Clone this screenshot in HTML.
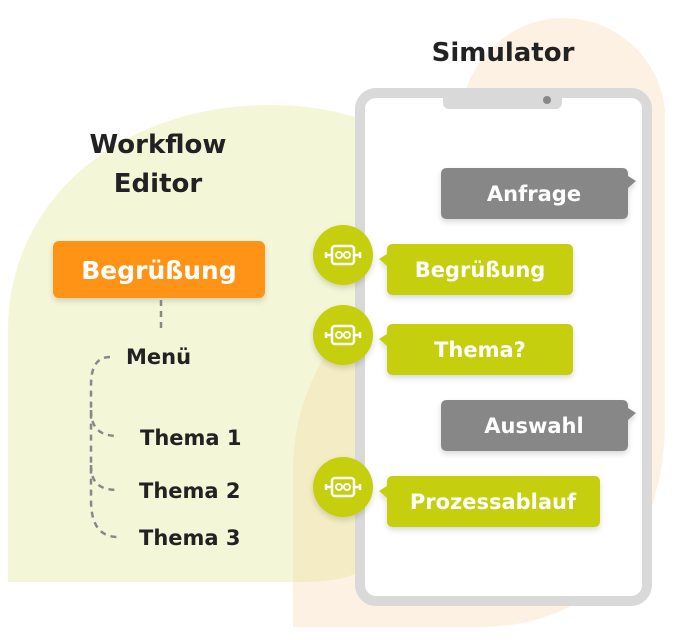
<!DOCTYPE html>
<html><head><meta charset="utf-8"><style>
html,body{margin:0;padding:0;background:#fff;}
body{width:674px;height:640px;overflow:hidden;position:relative;font-family:"DejaVu Sans","Liberation Sans",sans-serif;}
svg{position:absolute;left:0;top:0;}
</style></head><body>
<svg width="674" height="640" viewBox="0 0 674 640" xmlns="http://www.w3.org/2000/svg" font-family="DejaVu Sans, Liberation Sans, sans-serif">
<defs>
<filter id="sh" x="-20%" y="-30%" width="140%" height="170%"><feDropShadow dx="0" dy="3" stdDeviation="3" flood-color="#000" flood-opacity="0.15"/></filter>
<g id="bot">
<circle r="30" fill="#c5cf0a"/>
<rect x="-11" y="-9" width="22" height="18" rx="3" fill="none" stroke="#fff" stroke-width="2.5"/>
<circle cx="-4" cy="0" r="3" fill="none" stroke="#fff" stroke-width="2"/>
<circle cx="4" cy="0" r="3" fill="none" stroke="#fff" stroke-width="2"/>
<path d="M-11 0H-17M-17 -3V3M11 0H17M17 -3V3" stroke="#fff" stroke-width="2.5"/>
</g>
</defs>
<path d="M293 627 L293 470 C293 380 350 310 462 280 L462 110 A102 102 0 0 1 665 110 L665 420 C665 540 600 627 480 627 Z" fill="#fdf1e3"/>
<path d="M8 582 L8 330 C8 200 120 105 270 105 C320 105 350 115 380 125 L380 560 C360 575 340 582 300 582 Z" fill="#f4f6d8"/>
<path d="M293 582 L293 470 C293 380 350 310 380 300 L380 560 C360 575 340 582 300 582 Z" fill="#f3ecc4"/>
<rect x="360" y="93" width="287" height="508" rx="16" fill="#fff" stroke="#d9d9d9" stroke-width="10"/>
<path d="M443 96 H562 V102 Q562 109 555 109 H450 Q443 109 443 102 Z" fill="#d9d9d9"/>
<circle cx="547" cy="100" r="4" fill="#888"/>
<text x="503" y="61" font-size="26" font-weight="bold" fill="#222" text-anchor="middle">Simulator</text>
<text x="158" y="153" font-size="26" font-weight="bold" fill="#222" text-anchor="middle">Workflow</text>
<text x="158" y="192" font-size="26" font-weight="bold" fill="#222" text-anchor="middle">Editor</text>
<rect x="53" y="241" width="212" height="57" rx="6" fill="#ff9315" filter="url(#sh)"/>
<text x="159" y="279" font-size="25" font-weight="bold" fill="#fff" text-anchor="middle">Begrüßung</text>
<g fill="none" stroke="#888" stroke-width="2.5" stroke-dasharray="6 5">
<path d="M161 300 V330"/>
<path d="M110 357 C95 357 91 370 91 385 V500 C91 525 100 537 118 537"/>
<path d="M91 410 C91 430 102 436 118 436"/>
<path d="M91 465 C91 485 102 490 118 490"/>
</g>
<g font-size="21" font-weight="bold" fill="#222">
<text x="126" y="364">Menü</text>
<text x="140" y="445">Thema 1</text>
<text x="139" y="498">Thema 2</text>
<text x="139" y="545">Thema 3</text>
</g>
<g filter="url(#sh)">
<path d="M447 168 H622 Q628 168 628 174 V176 L636 181 L628 188 V213 Q628 219 622 219 H447 Q441 219 441 213 V174 Q441 168 447 168 Z" fill="#878787"/>
<path d="M447 400 H622 Q628 400 628 406 V408 L636 413 L628 420 V445 Q628 451 622 451 H447 Q441 451 441 445 V406 Q441 400 447 400 Z" fill="#878787"/>
<path d="M393 244 H567 Q573 244 573 250 V289 Q573 295 567 295 H393 Q387 295 387 289 V266 L379 259 L387 254 V250 Q387 244 393 244 Z" fill="#c5cf0a"/>
<path d="M393 324 H567 Q573 324 573 330 V369 Q573 375 567 375 H393 Q387 375 387 369 V346 L379 339 L387 334 V330 Q387 324 393 324 Z" fill="#c5cf0a"/>
<path d="M393 476 H594 Q600 476 600 482 V521 Q600 527 594 527 H393 Q387 527 387 521 V498 L379 491 L387 486 V482 Q387 476 393 476 Z" fill="#c5cf0a"/>
</g>
<g font-size="21" font-weight="bold" fill="#fff" text-anchor="middle">
<text x="534" y="201">Anfrage</text>
<text x="480" y="277">Begrüßung</text>
<text x="480" y="357">Thema?</text>
<text x="534" y="433">Auswahl</text>
<text x="493" y="509">Prozessablauf</text>
</g>
<use href="#bot" x="343" y="255" filter="url(#sh)"/>
<use href="#bot" x="343" y="335" filter="url(#sh)"/>
<use href="#bot" x="343" y="487" filter="url(#sh)"/>
</svg>
</body></html>
